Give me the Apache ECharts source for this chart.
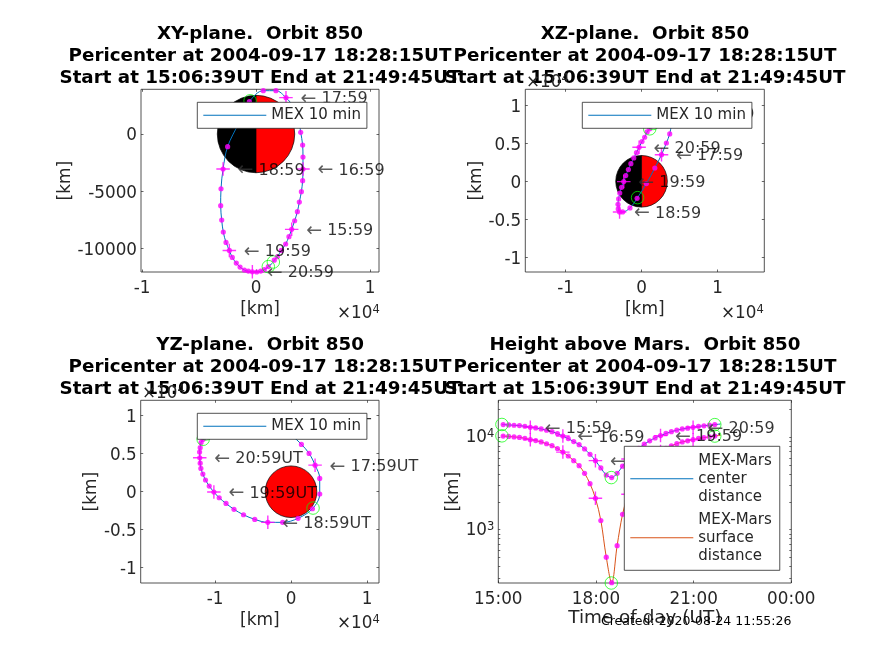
<!DOCTYPE html>
<html><head><meta charset="utf-8">
<style>html,body{margin:0;padding:0;background:#fff}#c{width:874px;height:655px}</style>
<script src="https://cdn.jsdelivr.net/npm/echarts@6/dist/echarts.min.js"></script>
</head><body><div id="c"></div>
<script>
// 10-minute samples of the orbit (km)
const times = ['15:09','15:19','15:29','15:39','15:49','15:59','16:09','16:19','16:29','16:39','16:49','16:59','17:09','17:19','17:29','17:39','17:49','17:59','18:09','18:19','18:29','18:39','18:49','18:59','19:09','19:19','19:29','19:39','19:49','19:59','20:09','20:19','20:29','20:39','20:49','20:59','21:09','21:19','21:29','21:39'];
const xKm = [1600,1870,2220,2600,2890,3130,3390,3630,3800,3980,4090,4120,4120,4090,3920,3710,3270,2630,1750,640,-580,-1520,-2490,-2890,-3070,-3100,-3010,-2870,-2630,-2340,-2080,-1730,-1400,-1020,-670,-320,60,410,730,1080];
const yKm = [-11000,-10700,-10150,-9590,-8950,-8310,-7560,-6770,-5930,-5030,-4070,-3050,-2010,-960,150,1370,2380,3170,3780,3780,2820,930,-1100,-3050,-4770,-6250,-7500,-8550,-9450,-10150,-10760,-11250,-11600,-11860,-11950,-12010,-12030,-11950,-11830,-11560];
const zKm = [7700,8170,8590,8930,9190,9240,9490,9610,9590,9550,9310,8930,8510,7930,7335,6230,5040,3500,1750,-300,-2240,-3500,-4030,-4030,-3640,-3030,-2320,-1540,-790,-40,750,1540,2320,3070,3760,4470,5220,5790,6490,6900];
const centerKm = [13700,13590,13480,13360,13150,12820,12600,12300,11900,11500,10950,10300,9665,8970,8320,7470,6540,5585,4653,3900,3663,4067,4862,5811,6740,7606,8408,9149,9841,10416,10985,11487,11914,12294,12545,12818,13113,13285,13510,13696];
const surfaceKm = [10304,10194,10084,9964,9754,9424,9204,8904,8504,8104,7554,6904,6269,5574,4924,4074,3144,2189,1257,504,267,671,1466,2415,3344,4210,5012,5753,6445,7020,7589,8091,8518,8898,9149,9422,9717,9889,10114,10300];
// Orbit ends and pericenter (green circles mark start, pericenter and the last sample)
const startPt = {t:'15:06:39', x:1520, y:-11160, z:7600, c:13750, s:10354};
const endPt   = {t:'21:49:45', x:1450, y:-11250, z:7600, c:13900, s:10504};
const periPt  = {t:'18:28:15', x:-520, y:2900,  z:-2150, c:3661, s:265};
const lastPt  = {t:'21:39:00', x:1080, y:-11560, z:6900, c:13696, s:10300};
const marsRadius = 3396;
// Tick values
const ticksX1 = [-10000,0,10000], ticksY1 = [-10000,-5000,0];
const ticksX2 = [-10000,0,10000], ticksZ = [-10000,-5000,0,5000,10000];
const ticksHours = [15,18,21,24], ticksLog = [1000,10000];
const ticksLogMinor = [300,400,500,600,700,800,900,1000,2000,3000,4000,5000,6000,7000,8000,9000,10000,20000];
const titles = [
 ['XY-plane.  Orbit 850',260,33],['YZ-plane.  Orbit 850',260,344],
 ['XZ-plane.  Orbit 850',645,33],['Height above Mars.  Orbit 850',645,344]];
const titleLine2 = 'Pericenter at 2004-09-17 18:28:15UT';
const titleLine3 = 'Start at 15:06:39UT End at 21:49:45UT';

const hrs = s => { const p=s.split(':').map(Number); return p[0]+p[1]/60+(p[2]||0)/3600; };
const hourly = times.map((t,i)=>t.endsWith(':59')?i:-1).filter(i=>i>=0);
const INK='#262626', BLUE='#0072BD', ORANGE='#D95319', MAG='#FF00FF', GREEN='#00FF00';
const FS=16.8, FSL=15;
const grids=[], xAxes=[], yAxes=[], series=[], legends=[];
const powerRich={b:{fontSize:FS,color:INK,fill:INK,fontFamily:'DejaVu Sans',lineHeight:18,verticalAlign:'bottom'},
                 s:{fontSize:11.5,color:INK,fill:INK,fontFamily:'DejaVu Sans',lineHeight:14,padding:[0,0,12,0],verticalAlign:'top'}};

function addAxes(g, o){
  const idx=grids.length;
  grids.push({show:true,left:g[0],top:g[1],width:g[2],height:g[3],borderColor:INK,borderWidth:0.8,backgroundColor:'#fff'});
  const tick={show:true,inside:true,length:2.5,lineStyle:{color:INK,width:0.7}};
  const base=(a,vals,fmt,extra)=>Object.assign({gridIndex:idx,min:a[0],max:a[1],scale:true,
    axisLine:{show:false,onZero:false},splitLine:{show:false},axisTick:Object.assign({},tick,{customValues:vals}),
    axisLabel:{show:true,color:INK,fontSize:FS,fontFamily:'DejaVu Sans',margin:8,customValues:vals,formatter:fmt}},extra||{});
  xAxes.push(base(o.xr,o.xt,o.xf,{type:'value',position:'bottom',name:o.xn,nameLocation:'middle',nameGap:o.xg,
     nameTextStyle:{color:INK,fontSize:o.xs||17,fontFamily:'DejaVu Sans'}}));
  const top=base(o.xr,o.xt,o.xf,{type:'value',position:'top'}); top.axisLabel={show:false}; xAxes.push(top);
  const yExtra={type:o.log?'log':'value',position:'left',name:'[km]',nameLocation:'middle',nameGap:o.yg,
     nameTextStyle:{color:INK,fontSize:17,fontFamily:'DejaVu Sans'}};
  const y=base(o.yr,o.yt,o.yf,yExtra); y.axisLabel.margin=4;
  if(o.log){y.axisLabel.rich=powerRich;
    y.axisTick=Object.assign({},tick,{customValues:ticksLogMinor,length:2});}
  else {
    const f=o.yf;
    y.axisLabel.formatter=v=>'{v|'+f(v)+'}';
    y.axisLabel.rich={v:{fontSize:FS,color:INK,fontFamily:'DejaVu Sans',lineHeight:18,padding:[4,0,0,0]}};
  }
  yAxes.push(y);
  const right=base(o.yr,o.yt,o.yf,{type:o.log?'log':'value',position:'right'}); right.axisLabel={show:false};
  if(o.log){right.axisTick=Object.assign({},tick,{customValues:ticksLogMinor,length:2});}
  yAxes.push(right);
  return idx;
}
function addTrack(idx, name, color, pts, circles, suffix){
  const ax={xAxisIndex:idx*2,yAxisIndex:idx*2};
  series.push(Object.assign({type:'line',name,data:pts.line,symbol:'none',smooth:0.35,z:3,
     lineStyle:{color,width:1},itemStyle:{color},silent:true},ax));
  series.push(Object.assign({type:'scatter',data:pts.dots,symbol:'circle',symbolSize:5.2,z:4,clip:false,
     itemStyle:{color:MAG},silent:true},ax));
  series.push(Object.assign({type:'scatter',data:pts.hours,clip:false,z:5,silent:true,
     symbol:'path://M0 5H10M5 0V10',symbolSize:13.5,itemStyle:{color:'none',borderColor:MAG,borderWidth:1.4},
     label:suffix!==null?{show:true,position:'right',distance:5.25,offset:[0,1.5],color:'#000',fontSize:16,fontFamily:'DejaVu Sans',
        rich:{a:{fontSize:19,color:'#333',fontFamily:'DejaVu Sans'}},
        formatter:p=>'{a|\u2190} '+p.data[2]+suffix}:{show:false}},ax));
  series.push(Object.assign({type:'scatter',data:circles,clip:false,z:5,silent:true,symbol:'circle',symbolSize:12.5,
     itemStyle:{color:'none',borderColor:GREEN,borderWidth:0.9}},ax));
}
function addMars(idx, half){
  series.push({type:'custom',xAxisIndex:idx*2,yAxisIndex:idx*2,z:2,silent:true,clip:false,
    data:[[0,0,marsRadius]],encode:{x:0,y:1},
    renderItem:(params,api)=>{
      const c=api.coord([api.value(0),api.value(1)]);
      const r=api.size([api.value(2),0])[0];
      const st=f=>({fill:f,stroke:'#000',lineWidth:0.7});
      const kids=half?[
        {type:'sector',shape:{cx:c[0],cy:c[1],r0:0,r,startAngle:Math.PI/2,endAngle:Math.PI*1.5,clockwise:true},style:st('#000')},
        {type:'sector',shape:{cx:c[0],cy:c[1],r0:0,r,startAngle:-Math.PI/2,endAngle:Math.PI/2,clockwise:true},style:st('#FF0000')}]
        :[{type:'circle',shape:{cx:c[0],cy:c[1],r},style:st('#FF0000')}];
      return {type:'group',children:kids};
    }});
}
const e4=v=>{const n=v/10000;return Math.abs(n)<1e-9?'0':String(n);};
function track(A,B,a,b){
  const line=[[a(startPt),b(startPt)]].concat(times.map((t,i)=>[A[i],B[i]]),[[a(endPt),b(endPt)]]);
  const dots=times.map((t,i)=>[A[i],B[i]]);
  const hours=hourly.map(i=>[A[i],B[i],times[i]]);
  return {line,dots,hours};
}
const rings=(a,b)=>[startPt,periPt,lastPt].map(p=>[a(p),b(p)]);

// XY panel
let i0=addAxes([141,89.3,238,182.7],{xr:[-10090,10790],yr:[-12030,3900],xt:ticksX1,yt:ticksY1,xf:e4,yf:v=>String(v),xn:'[km]',xg:29,yg:66});
addMars(i0,true);
addTrack(i0,'MEX 10 min',BLUE,track(xKm,yKm,p=>p.x,p=>p.y),rings(p=>p.x,p=>p.y),'');
// XZ panel
let i1=addAxes([525.3,89.3,239,182.7],{xr:[-15300,16160],yr:[-11930,12100],xt:ticksX2,yt:ticksZ,xf:e4,yf:e4,xn:'[km]',xg:29,yg:40});
addMars(i1,true);
addTrack(i1,'MEX 10 min',BLUE,track(xKm,zKm,p=>p.x,p=>p.z),rings(p=>p.x,p=>p.z),'');
// YZ panel
let i2=addAxes([140.7,400.3,238.3,182.7],{xr:[-19780,11580],yr:[-12010,12030],xt:ticksX2,yt:ticksZ,xf:e4,yf:e4,xn:'[km]',xg:29,yg:40});
addMars(i2,false);
addTrack(i2,'MEX 10 min',BLUE,track(yKm,zKm,p=>p.y,p=>p.z),rings(p=>p.y,p=>p.z),'UT');
// Height panel
const tfmt=v=>{const h=v%24;return (h<10?'0':'')+h+':00';};
let i3=addAxes([498.3,400.3,293,182.7],{log:true,xr:[15,24],yr:[265,25100],xt:ticksHours,yt:ticksLog,xf:tfmt,
   yf:v=>'{b|10}{s|'+Math.round(Math.log10(v))+'}',xn:'Time of day (UT)',xs:18.4,xg:26,yg:36});
const hT=times.map(hrs);
const N1='MEX-Mars\ncenter\ndistance', N2='MEX-Mars\nsurface\ndistance';
addTrack(i3,N1,BLUE,track(hT,centerKm,p=>hrs(p.t),p=>p.c),rings(p=>hrs(p.t),p=>p.c),'');
addTrack(i3,N2,ORANGE,track(hT,surfaceKm,p=>hrs(p.t),p=>p.s),rings(p=>hrs(p.t),p=>p.s),null);

const legendBase={orient:'vertical',selectedMode:false,backgroundColor:'#fff',borderColor:INK,borderWidth:0.8,borderRadius:0,
  icon:'rect',itemWidth:63,itemHeight:1,itemGap:5,z:10,textStyle:{color:INK,fontSize:FSL,fontFamily:'DejaVu Sans',lineHeight:18}};
[[197.3,102.3],[582.3,102.3],[197.3,413.3]].forEach(p=>legends.push(Object.assign({},legendBase,
  {left:p[0],top:p[1],padding:[4,6,4,6],data:[{name:'MEX 10 min'}]})));
legends.push(Object.assign({},legendBase,{left:624.3,top:446.3,padding:[5.5,8,5.5,6],data:[{name:N1},{name:N2}]}));

const titleOpts=[];
titles.forEach(t=>{
  [t[0],titleLine2,titleLine3].forEach((s,k)=>titleOpts.push({text:s,left:t[1],top:t[2]+k*22-9,textAlign:'center',padding:0,z:6,
    textStyle:{color:'#000',fontSize:18.3,fontWeight:'bold',fontFamily:'DejaVu Sans',lineHeight:20}}));
});
const expo=(x,y)=>({type:'text',x,y,z:7,style:{text:'{m|\u00D7}{b|10}{s|4}',fill:INK,fontSize:FS,fontFamily:'DejaVu Sans',
   rich:Object.assign({m:powerRich.b},powerRich)}});
const graphic=[expo(337,304),expo(721,304),expo(337,614),expo(526,73),expo(142,384),
 {type:'text',x:601,y:615,z:8,style:{text:'Created: 2020-08-24 11:55:26',fill:'#000',fontSize:12.5,fontFamily:'DejaVu Sans'}}];

const chart=echarts.init(document.getElementById('c'),null,{renderer:'canvas'});
chart.setOption({animation:false,backgroundColor:'#fff',title:titleOpts,legend:legends,grid:grids,xAxis:xAxes,yAxis:yAxes,series,graphic:{elements:graphic},tooltip:{show:false}});
</script></body></html>
